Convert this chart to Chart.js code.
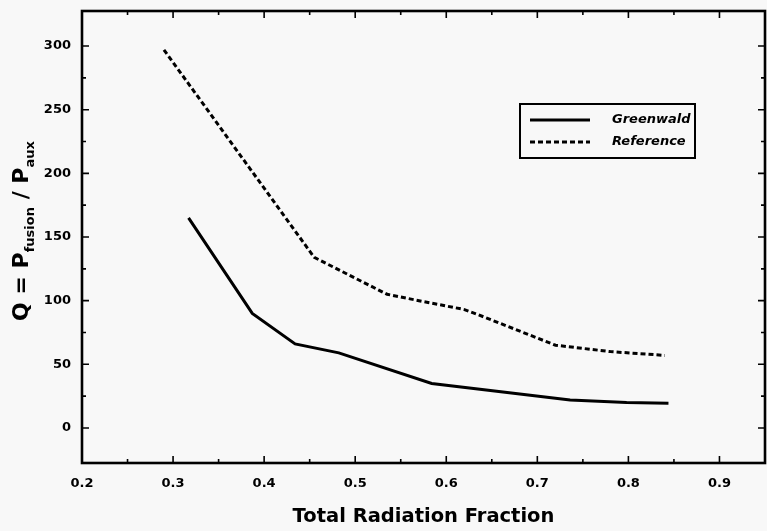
<!DOCTYPE html>
<html>
<head>
<meta charset="utf-8">
<script src="https://cdn.jsdelivr.net/npm/chart.js@4/dist/chart.umd.min.js"></script>
<style>
    body { margin: 0; background: #f8f8f8; }
    #chart { display: block; }
</style>
</head>
<body>
<canvas id="chart" width="767" height="531"></canvas>
<script>
// values
var greenwaldX = [0.317, 0.387, 0.434, 0.482, 0.584, 0.736, 0.798, 0.844];
var greenwaldQ = [165, 90, 66, 59, 35, 22, 20, 19.5];

var referenceX = [0.29, 0.455, 0.535, 0.57, 0.62, 0.635, 0.72, 0.78, 0.84];
var referenceQ = [297, 134, 105, 100, 93, 89, 65, 60, 57];

var seriesNames = ["Greenwald", "Reference"];

var xTicks = [0.2, 0.3, 0.4, 0.5, 0.6, 0.7, 0.8, 0.9];
var xMinorTicks = [0.25, 0.35, 0.45, 0.55, 0.65, 0.75, 0.85, 0.95];
var yTicks = [0, 50, 100, 150, 200, 250, 300];
var yMinorTicks = [25, 75, 125, 175, 225, 275];

function toPoints(xs, ys)
{
    return xs.map(function(x, i) { return {x: x, y: ys[i]}; });
}

// inward ticks on all four sides plus the heavy frame
var framePlugin = {
    id: "frame",
    afterDatasetsDraw: function(chart)
    {
        var ctx = chart.ctx;
        var area = chart.chartArea;
        var xs = chart.scales.x;
        var ys = chart.scales.y;

        ctx.save();
        ctx.strokeStyle = "#000";
        ctx.lineWidth = 1.6;
        ctx.beginPath();

        function xTick(v, len)
        {
            var px = xs.getPixelForValue(v);
            ctx.moveTo(px, area.bottom);
            ctx.lineTo(px, area.bottom - len);
            ctx.moveTo(px, area.top);
            ctx.lineTo(px, area.top + len);
        }
        function yTick(v, len)
        {
            var py = ys.getPixelForValue(v);
            ctx.moveTo(area.left, py);
            ctx.lineTo(area.left + len, py);
            ctx.moveTo(area.right, py);
            ctx.lineTo(area.right - len, py);
        }

        xTicks.forEach(function(v) { xTick(v, 7); });
        xMinorTicks.forEach(function(v) { xTick(v, 4); });
        yTicks.forEach(function(v) { yTick(v, 7); });
        yMinorTicks.forEach(function(v) { yTick(v, 4); });
        ctx.stroke();

        ctx.lineWidth = 2.6;
        ctx.strokeRect(area.left, area.top, area.right - area.left, area.bottom - area.top);
        ctx.restore();
    }
};

// boxed legend inside the plot, top right
var legendPlugin = {
    id: "boxLegend",
    afterDraw: function(chart)
    {
        var ctx = chart.ctx;
        var area = chart.chartArea;
        var left = area.left + 438;
        var top = area.top + 93;

        ctx.save();
        ctx.strokeStyle = "#000";
        ctx.lineWidth = 2;
        ctx.strokeRect(left, top, 175, 54);

        chart.data.datasets.forEach(function(ds, i)
        {
            var y = top + 16 + i * 22;
            ctx.lineWidth = 3;
            ctx.setLineDash(ds.borderDash || []);
            ctx.beginPath();
            ctx.moveTo(left + 10, y);
            ctx.lineTo(left + 70, y);
            ctx.stroke();
            ctx.setLineDash([]);

            ctx.fillStyle = "#000";
            ctx.font = "italic bold 13px 'DejaVu Sans'";
            ctx.textAlign = "left";
            ctx.textBaseline = "middle";
            ctx.fillText(ds.label, left + 92, y);
        });
        ctx.restore();
    }
};

// rotated y title with subscripts
var yTitlePlugin = {
    id: "yTitle",
    afterDraw: function(chart)
    {
        var ctx = chart.ctx;
        var parts = [
            {text: "Q = P", font: "bold 22px 'DejaVu Sans'", dy: 0},
            {text: "fusion", font: "bold 13px 'DejaVu Sans'", dy: 6},
            {text: " / P", font: "bold 22px 'DejaVu Sans'", dy: 0},
            {text: "aux", font: "bold 13px 'DejaVu Sans'", dy: 6}
        ];

        ctx.save();
        var total = 0;
        parts.forEach(function(p)
        {
            ctx.font = p.font;
            p.w = ctx.measureText(p.text).width;
            total += p.w;
        });

        ctx.translate(28, 231);
        ctx.rotate(-Math.PI / 2);
        ctx.fillStyle = "#000";
        ctx.textAlign = "left";
        ctx.textBaseline = "alphabetic";

        var x = -total / 2;
        parts.forEach(function(p)
        {
            ctx.font = p.font;
            ctx.fillText(p.text, x, p.dy);
            x += p.w;
        });
        ctx.restore();
    }
};

var bgPlugin = {
    id: "bg",
    beforeDraw: function(chart)
    {
        var ctx = chart.ctx;
        ctx.save();
        ctx.fillStyle = "#f8f8f8";
        ctx.fillRect(0, 0, chart.width, chart.height);
        ctx.restore();
    }
};

new Chart(document.getElementById("chart").getContext("2d"), {
    type: "line",
    data: {
        datasets: [
            {
                label: seriesNames[0],
                data: toPoints(greenwaldX, greenwaldQ),
                borderColor: "#000",
                borderWidth: 3,
                pointRadius: 0,
                tension: 0
            },
            {
                label: seriesNames[1],
                data: toPoints(referenceX, referenceQ),
                borderColor: "#000",
                borderWidth: 3,
                borderDash: [5, 3],
                pointRadius: 0,
                tension: 0
            }
        ]
    },
    options: {
        responsive: false,
        animation: false,
        devicePixelRatio: 1,
        layout: { padding: { left: 0, right: 2, top: 11, bottom: 0 } },
        plugins: {
            legend: { display: false },
            tooltip: { enabled: false }
        },
        scales: {
            x: {
                type: "linear",
                min: 0.2,
                max: 0.95,
                grid: { display: false, drawTicks: false },
                border: { display: false },
                afterBuildTicks: function(scale)
                {
                    scale.ticks = xTicks.map(function(v) { return {value: v}; });
                },
                afterFit: function(scale)
                {
                    scale.height = 68;
                    scale.paddingLeft = 0;
                    scale.paddingRight = 0;
                },
                ticks: {
                    color: "#000",
                    font: { family: "DejaVu Sans", size: 13, weight: "bold" },
                    padding: 13,
                    maxRotation: 0,
                    callback: function(v) { return v.toFixed(1); }
                },
                title: {
                    display: true,
                    text: "Total Radiation Fraction",
                    color: "#000",
                    font: { family: "DejaVu Sans", size: 19.5, weight: "bold" },
                    padding: { top: 0, bottom: 2 }
                }
            },
            y: {
                min: -27.5,
                max: 327.5,
                grid: { display: false, drawTicks: false },
                border: { display: false },
                afterBuildTicks: function(scale)
                {
                    scale.ticks = yTicks.map(function(v) { return {value: v}; });
                },
                afterFit: function(scale)
                {
                    scale.width = 82;
                    scale.paddingTop = 0;
                    scale.paddingBottom = 0;
                },
                ticks: {
                    color: "#000",
                    font: { family: "DejaVu Sans", size: 13, weight: "bold" },
                    padding: 11,
                    callback: function(v) { return String(v); }
                }
            }
        }
    },
    plugins: [bgPlugin, framePlugin, legendPlugin, yTitlePlugin]
});
</script>
</body>
</html>
